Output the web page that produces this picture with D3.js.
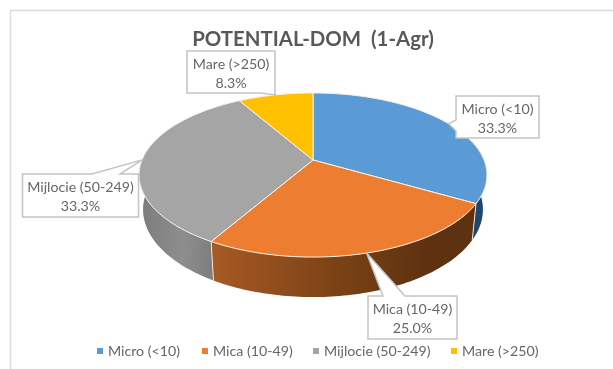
<!DOCTYPE html>
<html><head><meta charset="utf-8">
<script src="https://cdn.jsdelivr.net/npm/d3@7"></script>
<style>html,body{margin:0;padding:0;background:#fff}svg{display:block;filter:blur(0.4px)}text{font-family:Lato,"Open Sans",sans-serif}</style>
</head><body><svg id="c" width="613" height="369"></svg>
<script>
const titleText = "POTENTIAL-DOM  (1-Agr)";
const categories = ["Micro (<10)", "Mica (10-49)", "Mijlocie (50-249)", "Mare (>250)"];
const percents = [33.3, 25.0, 33.3, 8.3];
const colors = ["#5b9bd5", "#ed7d31", "#a5a5a5", "#ffc000"];

// layout, separate from the data
const W = 613, H = 369;
const persp = 0.183, radiusX = 171;
const topDisc = {cx: 313, cy: 160, ry: 79.3, rx: radiusX};
const lowDisc = {cx: 313, cy: 193.5, ry: 84.6, rx: radiusX * 0.977};
const frontStart = 1.32, frontEnd = 2 * Math.PI - 1.32;
const boxes = [
  {x0: 456, y0: 96, x1: 539, y1: 138, side: "left", a: 120, b: 131},
  {x0: 368, y0: 296, x1: 457, y1: 339, side: "bottomEdgeTop", a: 405, b: 383},
  {x0: 22.5, y0: 174, x1: 138.5, y1: 217, side: "bottomEdgeTop", a: 120, b: 92},
  {x0: 187, y0: 51, x1: 275, y1: 93, side: "bottom", a: 275, b: 260}
];
const wallStops = [
  [[0, "#1a3f5f"], [1, "#1f4a6e"]],
  [[0, "#a85a25"], [0.45, "#7d4316"], [0.8, "#5e3211"], [1, "#5e3211"]],
  [[0, "#7a7a7a"], [0.6, "#8e8e8e"], [1, "#7c7c7c"]]
];
const wallRanges = [[440, 490], [210, 480], [135, 215]];
const legendMarks = [97, 202, 313, 451];

const svg = d3.select("#c");
const defs = svg.append("defs");

function project(angle, disc) {
  const u = Math.sin(angle), v = Math.cos(angle), w = 1 + persp * v;
  return [disc.cx + disc.rx * u / w, disc.cy - disc.ry * v / w];
}
function arcPoints(a0, a1, disc) {
  const n = Math.max(2, Math.ceil((a1 - a0) / 0.02));
  return d3.range(n + 1).map(i => project(a0 + (a1 - a0) * i / n, disc));
}
const line = d3.line();
const arcs = d3.pie().sort(null).value(d => d)(percents);

svg.append("rect").attr("width", W).attr("height", H).attr("fill", "#fff");
svg.append("path").attr("d", `M10.5,${H} V10.5 H${W}`).attr("fill", "none")
  .attr("stroke", "#dcdcdc").attr("stroke-width", 1.5);

svg.append("text").attr("x", 313).attr("y", 46).attr("text-anchor", "middle")
  .attr("font-size", 20.4).attr("font-weight", 700).attr("fill", "#595959")
  .style("white-space", "pre").text(titleText);

// side walls, front part only
arcs.forEach((d, i) => {
  const a0 = Math.max(d.startAngle, frontStart), a1 = Math.min(d.endAngle, frontEnd);
  if (a1 <= a0) return;
  const id = "wall" + i;
  const g = defs.append("linearGradient").attr("id", id).attr("gradientUnits", "userSpaceOnUse")
    .attr("x1", wallRanges[i][0]).attr("x2", wallRanges[i][1]).attr("y1", 0).attr("y2", 0);
  wallStops[i].forEach(s => g.append("stop").attr("offset", s[0]).attr("stop-color", s[1]));
  const pts = arcPoints(a0, a1, topDisc).concat(arcPoints(a0, a1, lowDisc).reverse());
  svg.append("path").attr("d", line(pts) + "Z").attr("fill", `url(#${id})`);
});
// light dividers between the visible walls
arcs.forEach(d => {
  const a = d.endAngle;
  if (a > frontStart && a < frontEnd)
    svg.append("path").attr("d", line([project(a, topDisc), project(a, lowDisc)]))
      .attr("stroke", "#f3e3d3").attr("stroke-width", 1).attr("fill", "none");
});

// top face
arcs.forEach((d, i) => {
  const pts = [[topDisc.cx, topDisc.cy]].concat(arcPoints(d.startAngle, d.endAngle, topDisc));
  svg.append("path").attr("d", line(pts) + "Z").attr("fill", colors[i])
    .attr("stroke", "#fdf1e6").attr("stroke-width", 1).attr("stroke-linejoin", "round");
});

// callouts
arcs.forEach((d, i) => {
  const b = boxes[i];
  const tip = project((d.startAngle + d.endAngle) / 2, topDisc);
  let p;
  if (b.side === "left")
    p = [[b.x0, b.y0], [b.x1, b.y0], [b.x1, b.y1], [b.x0, b.y1], [b.x0, b.b], tip, [b.x0, b.a]];
  else if (b.side === "bottom")
    p = [[b.x0, b.y0], [b.x1, b.y0], [b.x1, b.y1], [b.a, b.y1], tip, [b.b, b.y1], [b.x0, b.y1]];
  else
    p = [[b.x0, b.y0], [b.b, b.y0], tip, [b.a, b.y0], [b.x1, b.y0], [b.x1, b.y1], [b.x0, b.y1]];
  svg.append("path").attr("d", line(p) + "Z").attr("fill", "#fff")
    .attr("stroke", "#c4c4c4").attr("stroke-width", 1.5);
  const cx = (b.x0 + b.x1) / 2;
  const t = svg.append("text").attr("text-anchor", "middle").attr("font-size", 14.2).attr("fill", "#666");
  t.append("tspan").attr("x", cx).attr("y", b.y0 + 18).text(categories[i]);
  t.append("tspan").attr("x", cx).attr("y", b.y0 + 37).text(percents[i].toFixed(1) + "%");
});

// legend
categories.forEach((c, i) => {
  svg.append("rect").attr("x", legendMarks[i]).attr("y", 348).attr("width", 6).attr("height", 6).attr("fill", colors[i]);
  svg.append("text").attr("x", legendMarks[i] + 11).attr("y", 356).attr("font-size", 14.2).attr("fill", "#666").text(c);
});
</script></body></html>
